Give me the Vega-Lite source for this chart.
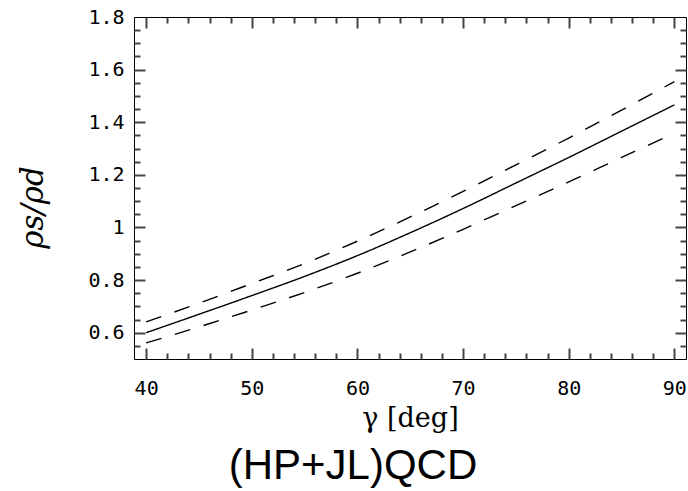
{
  "$schema": "https://vega.github.io/schema/vega-lite/v6.json",
  "width": 552,
  "height": 342,
  "autosize": {"type": "none"},
  "padding": {"left": 134, "top": 17, "right": 2, "bottom": 132},
  "background": "white",
  "config": {"view": {"stroke": "black", "strokeWidth": 1, "fill": null}, "axis": {"ticks": true, "tickColor": "#444444", "tickWidth": 2, "tickOpacity": 1, "zindex": 1}},
  "title": {"text": "(HP+JL)QCD", "orient": "bottom", "anchor": "middle", "font": "Liberation Sans", "fontSize": 42, "fontWeight": "normal", "color": "black", "offset": 15, "dx": -57},
  "data": {"values": [
    {"g": 40, "v": 0.600, "s": "central"},
    {"g": 45, "v": 0.670, "s": "central"},
    {"g": 50, "v": 0.741, "s": "central"},
    {"g": 55, "v": 0.814, "s": "central"},
    {"g": 60, "v": 0.893, "s": "central"},
    {"g": 65, "v": 0.980, "s": "central"},
    {"g": 70, "v": 1.072, "s": "central"},
    {"g": 75, "v": 1.169, "s": "central"},
    {"g": 80, "v": 1.266, "s": "central"},
    {"g": 85, "v": 1.366, "s": "central"},
    {"g": 90, "v": 1.466, "s": "central"},
    {"g": 40, "v": 0.641, "s": "upper"},
    {"g": 45, "v": 0.712, "s": "upper"},
    {"g": 50, "v": 0.787, "s": "upper"},
    {"g": 55, "v": 0.863, "s": "upper"},
    {"g": 60, "v": 0.948, "s": "upper"},
    {"g": 65, "v": 1.040, "s": "upper"},
    {"g": 70, "v": 1.137, "s": "upper"},
    {"g": 75, "v": 1.238, "s": "upper"},
    {"g": 80, "v": 1.340, "s": "upper"},
    {"g": 85, "v": 1.446, "s": "upper"},
    {"g": 90, "v": 1.554, "s": "upper"},
    {"g": 40, "v": 0.561, "s": "lower"},
    {"g": 45, "v": 0.622, "s": "lower"},
    {"g": 50, "v": 0.686, "s": "lower"},
    {"g": 55, "v": 0.753, "s": "lower"},
    {"g": 60, "v": 0.826, "s": "lower"},
    {"g": 65, "v": 0.907, "s": "lower"},
    {"g": 70, "v": 0.993, "s": "lower"},
    {"g": 75, "v": 1.083, "s": "lower"},
    {"g": 80, "v": 1.173, "s": "lower"},
    {"g": 85, "v": 1.266, "s": "lower"},
    {"g": 90, "v": 1.358, "s": "lower"}
  ]},
  "resolve": {"axis": {"x": "independent", "y": "independent"}},
  "layer": [
    {
      "mark": {"type": "line", "color": "black", "strokeWidth": 1.4, "interpolate": "monotone"},
      "encoding": {
        "x": {"field": "g", "type": "quantitative",
          "scale": {"domain": [38.85, 91.1], "nice": false, "zero": false},
          "axis": {"orient": "bottom", "values": [40, 50, 60, 70, 80, 90], "format": "d", "ticks": false, "domain": false, "grid": false, "labelFlush": false, "labelOverlap": false,
            "labelFont": "DejaVu Sans Mono", "labelFontSize": 20, "labelColor": "black", "labelPadding": 19,
            "title": "γ [deg]", "titleFont": "DejaVu Serif", "titleFontSize": 27, "titleFontWeight": "normal", "titleColor": "black", "titlePadding": 7}},
        "y": {"field": "v", "type": "quantitative",
          "scale": {"domain": [0.5, 1.8], "nice": false, "zero": false},
          "axis": {"orient": "left", "values": [0.6, 0.8, 1.0, 1.2, 1.4, 1.6, 1.8], "format": "~g", "ticks": false, "domain": false, "grid": false, "labelFlush": false, "labelOverlap": false,
            "labelFont": "DejaVu Sans Mono", "labelFontSize": 20, "labelColor": "black", "labelPadding": 10,
            "title": "ρs/ρd", "titleFont": "DejaVu Serif", "titleFontSize": 31, "titleFontStyle": "italic", "titleFontWeight": "normal", "titleColor": "black", "titlePadding": 38, "titleY": 190}},
        "detail": {"field": "s"},
        "strokeDash": {"field": "s", "type": "nominal", "scale": {"domain": ["central", "upper", "lower"], "range": [[1, 0], [16, 14], [16, 14]]}, "legend": null}
      }
    },
    {
      "mark": {"type": "line", "opacity": 0},
      "encoding": {
        "x": {"field": "g", "type": "quantitative",
          "axis": {"orient": "bottom", "offset": -6, "values": [42, 44, 46, 48, 52, 54, 56, 58, 62, 64, 66, 68, 72, 74, 76, 78, 82, 84, 86, 88], "ticks": true, "tickSize": 6, "labels": false, "domain": false, "grid": false, "title": null}},
        "y": {"field": "v", "type": "quantitative",
          "axis": {"orient": "left", "offset": -6, "values": [0.55, 0.65, 0.7, 0.75, 0.85, 0.9, 0.95, 1.05, 1.1, 1.15, 1.25, 1.3, 1.35, 1.45, 1.5, 1.55, 1.65, 1.7, 1.75], "ticks": true, "tickSize": 6, "labels": false, "domain": false, "grid": false, "title": null}},
        "detail": {"field": "s"}
      }
    },
    {
      "mark": {"type": "line", "opacity": 0},
      "encoding": {
        "x": {"field": "g", "type": "quantitative",
          "axis": {"orient": "bottom", "offset": -11, "values": [40, 50, 60, 70, 80, 90], "ticks": true, "tickSize": 11, "labels": false, "domain": false, "grid": false, "title": null}},
        "y": {"field": "v", "type": "quantitative",
          "axis": {"orient": "left", "offset": -11, "values": [0.6, 0.8, 1.0, 1.2, 1.4, 1.6], "ticks": true, "tickSize": 11, "labels": false, "domain": false, "grid": false, "title": null}},
        "detail": {"field": "s"}
      }
    },
    {
      "mark": {"type": "line", "opacity": 0},
      "encoding": {
        "x": {"field": "g", "type": "quantitative",
          "axis": {"orient": "top", "offset": -11, "values": [40, 50, 60, 70, 80, 90], "ticks": true, "tickSize": 11, "labels": false, "domain": false, "grid": false, "title": null}},
        "y": {"field": "v", "type": "quantitative",
          "axis": {"orient": "right", "offset": -11, "values": [0.6, 0.8, 1.0, 1.2, 1.4, 1.6], "ticks": true, "tickSize": 11, "labels": false, "domain": false, "grid": false, "title": null}},
        "detail": {"field": "s"}
      }
    },
    {
      "mark": {"type": "line", "opacity": 0},
      "encoding": {
        "x": {"field": "g", "type": "quantitative",
          "axis": {"orient": "top", "offset": -6, "values": [42, 44, 46, 48, 52, 54, 56, 58, 62, 64, 66, 68, 72, 74, 76, 78, 82, 84, 86, 88], "ticks": true, "tickSize": 6, "labels": false, "domain": false, "grid": false, "title": null}},
        "y": {"field": "v", "type": "quantitative",
          "axis": {"orient": "right", "offset": -6, "values": [0.55, 0.65, 0.7, 0.75, 0.85, 0.9, 0.95, 1.05, 1.1, 1.15, 1.25, 1.3, 1.35, 1.45, 1.5, 1.55, 1.65, 1.7, 1.75], "ticks": true, "tickSize": 6, "labels": false, "domain": false, "grid": false, "title": null}},
        "detail": {"field": "s"}
      }
    }
  ]
}
